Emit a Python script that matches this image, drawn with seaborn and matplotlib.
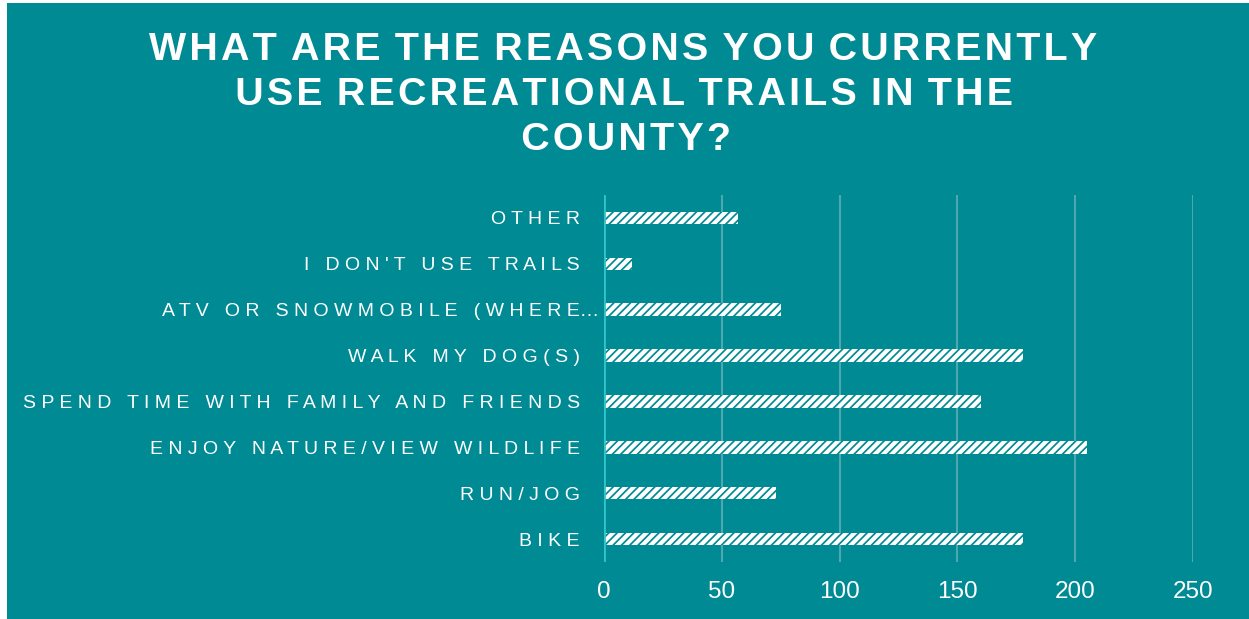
import matplotlib
matplotlib.use("Agg")
import matplotlib.pyplot as plt
import seaborn as sns
import pandas as pd
from matplotlib.patches import Rectangle

categories = ["OTHER", "I DON'T USE TRAILS", "ATV OR SNOWMOBILE (WHERE\u2026",
              "WALK MY DOG(S)", "SPEND TIME WITH FAMILY AND FRIENDS",
              "ENJOY NATURE/VIEW WILDLIFE", "RUN/JOG", "BIKE"]
counts = [57, 12, 75, 178, 160, 205, 73, 178]
x_ticks = [0, 50, 100, 150, 200, 250]
title = "WHAT ARE THE REASONS YOU CURRENTLY\nUSE RECREATIONAL TRAILS IN THE\nCOUNTY?"

TEAL = "#008A94"
GRID = "#4DA8AF"
ZERO = "#30C4CC"


def spaced(s, letter=" ", word="   "):
    return word.join(letter.join(ch for ch in w) for w in s.split(" "))


def spaced_label(s):
    if s.endswith("\u2026"):
        return spaced(s[:-1]) + "\u2026"
    return spaced(s)


sns.set_theme(style="white")
plt.rcParams["font.family"] = ["Liberation Sans", "DejaVu Sans"]
plt.rcParams["hatch.linewidth"] = 1.25

df = pd.DataFrame({"cat": [spaced_label(c) for c in categories], "n": counts})

fig = plt.figure(figsize=(12.49, 6.19), dpi=100, facecolor="white")
fig.patches.append(Rectangle((7 / 1249, 0), 1 - 7 / 1249, 1 - 3 / 619,
                             transform=fig.transFigure, facecolor=TEAL,
                             edgecolor="none", zorder=-10))
ax = fig.add_axes([604 / 1249, 57 / 619, (1193 - 604) / 1249, (562 - 195) / 619])
ax.set_facecolor(TEAL)

sns.barplot(data=df, x="n", y="cat", orient="h", ax=ax, color="white",
            width=0.27, edgecolor=TEAL, linewidth=0, hatch="////", zorder=3)

ax.set_xlim(0, 250)
ax.set_ylim(7.5, -0.5)
ax.set_xticks(x_ticks)
ax.set_xticklabels([str(t) for t in x_ticks])
ax.grid(axis="x", color=GRID, linewidth=1.5, zorder=0)
ax.grid(axis="y", visible=False)
ax.axvline(0, color=ZERO, linewidth=2, zorder=4)
for s in ax.spines.values():
    s.set_visible(False)
ax.set_xlabel("")
ax.set_ylabel("")
ax.tick_params(axis="x", length=0, pad=14, labelsize=17.5, labelcolor="white")
ax.tick_params(axis="y", length=0, pad=17.5, labelsize=14, labelcolor="white")

for lab in ax.get_yticklabels():
    if lab.get_text().endswith("\u2026"):
        lab.set_x(20 / 589)

fig.text(0.5, 1 - 32 / 619, spaced(title, letter="\u200a", word=" \u200a"),
         ha="center", va="top", color="white", fontsize=28.4, fontweight="bold",
         linespacing=1.33)

fig.savefig("out.png", dpi=100, facecolor="white")
